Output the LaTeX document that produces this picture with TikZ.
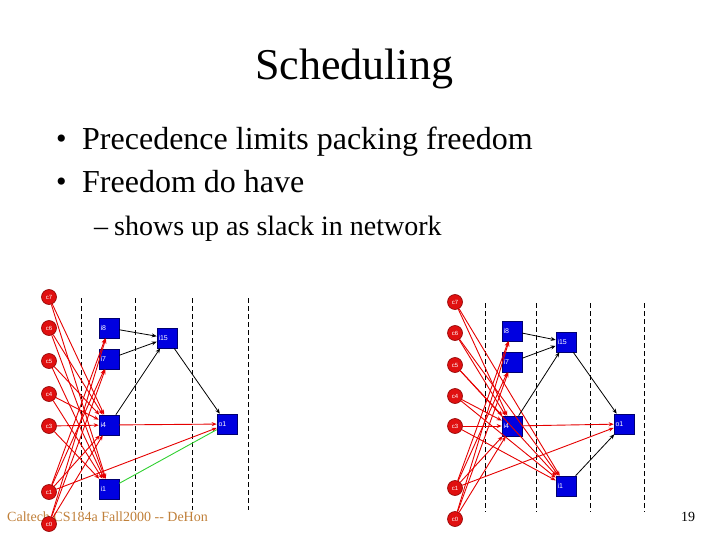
\documentclass[tikz,border=0pt]{standalone}
\usepackage{fontspec}
\setmainfont{Liberation Serif}
\newfontfamily\gsans{Liberation Sans}
\usetikzlibrary{arrows.meta}
\definecolor{cred}{HTML}{E01010}
\definecolor{cdred}{HTML}{900000}
\definecolor{bblue}{HTML}{0000E0}
\definecolor{bdblue}{HTML}{000070}
\definecolor{foot}{HTML}{C0803A}
\definecolor{egreen}{HTML}{30D030}
\begin{document}
\begin{tikzpicture}[x=1pt,y=-1pt,
  cnode/.style={circle,fill=cred,draw=cdred,line width=0.6pt,minimum size=15pt,inner sep=0pt,text=white,font=\gsans\fontsize{6}{6}\selectfont},
  bnode/.style={rectangle,fill=bblue,draw=bdblue,line width=0.6pt,minimum width=20pt,minimum height=20pt,inner sep=1.5pt,text width=17pt,align=left,text=white,font=\gsans\fontsize{7}{7}\selectfont},
  redge/.style={draw=red!90!black,line width=0.9pt,-{Stealth[length=5pt,width=4pt]}},
  kedge/.style={draw=black,line width=0.8pt,-{Stealth[length=5pt,width=4pt]}},
  gedge/.style={draw=egreen,line width=0.9pt},
  vdash/.style={draw=black,line width=0.8pt,dash pattern=on 5pt off 3pt},
  txt/.style={inner sep=0pt,anchor=base west}]
\useasboundingbox (0,0) rectangle (720,540);
% texts
\node[inner sep=0pt,anchor=base] (title) at (354,80) {\fontsize{44}{44}\selectfont Scheduling};
\node[txt] (d1) at (56,149) {\fontsize{30}{30}\selectfont\textbullet};
\node[txt] (b1) at (82,150) {\fontsize{32}{32}\selectfont Precedence limits packing freedom};
\node[txt] (d2) at (56,192) {\fontsize{30}{30}\selectfont\textbullet};
\node[txt] (b2) at (82,193) {\fontsize{32}{32}\selectfont Freedom do have};
\node[txt] (s0) at (94,236) {\fontsize{28}{28}\selectfont\textendash};
\node[txt] (s1) at (114,236) {\fontsize{28}{28}\selectfont shows up as slack in network};
\node[txt,text=foot] (foot) at (7,521) {\fontsize{14}{14}\selectfont Caltech CS184a Fall2000 -{}- DeHon};
\node[txt] (pg) at (681,521) {\fontsize{14}{14}\selectfont 19};
% dashed stage lines
\foreach \x in {81,135,192,248} \draw[vdash] (\x,298) -- (\x,510);
\foreach \x in {485,536,590,644} \draw[vdash] (\x,303) -- (\x,512);
% ---------------- left graph
\node[cnode] (Lc7) at (49,297) {c7};
\node[cnode] (Lc6) at (49,328) {c6};
\node[cnode] (Lc5) at (49,361) {c5};
\node[cnode] (Lc4) at (49,394) {c4};
\node[cnode] (Lc3) at (49,426) {c3};
\node[cnode] (Lc1) at (49,492) {c1};
\node[cnode] (Lc0) at (49,524) {c0};
\node[bnode] (Li8) at (109,328) {i8};
\node[bnode] (Li7) at (109,359) {i7};
\node[bnode] (Li4) at (109,425) {i4};
\node[bnode] (Li1) at (109,489) {i1};
\node[bnode] (Li15) at (167,338) {i15};
\node[bnode] (Lo1) at (227,424) {o1};
\foreach \s in {Lc7,Lc6,Lc5,Lc4,Lc3} {
  \draw[redge] (\s) -- (Li4);
  \draw[redge] (\s) -- (Li1);
}
\foreach \s in {Lc1,Lc0} {
  \draw[redge] (\s) -- (Li8);
  \draw[redge] (\s) -- (Li7);
  \draw[redge] (\s) -- (Li4);
}
\draw[redge] (Lc1) -- (Lo1);
\draw[redge] (Li4) -- (Lo1);
\draw[gedge] (Li1) -- (Lo1);
\draw[kedge] (Li8) -- (Li15);
\draw[kedge] (Li7) -- (Li15);
\draw[kedge] (Li4) -- (Li15);
\draw[kedge] (Li15) -- (Lo1);
% ---------------- right graph
\node[cnode] (Rc7) at (455,302) {c7};
\node[cnode] (Rc6) at (455,333) {c6};
\node[cnode] (Rc5) at (455,365) {c5};
\node[cnode] (Rc4) at (455,396) {c4};
\node[cnode] (Rc3) at (455,426) {c3};
\node[cnode] (Rc1) at (455,488) {c1};
\node[cnode] (Rc0) at (455,519) {c0};
\node[bnode] (Ri8) at (512,331) {i8};
\node[bnode] (Ri7) at (512,362) {i7};
\node[bnode] (Ri4) at (512,426) {i4};
\node[bnode] (Ri1) at (566,486) {i1};
\node[bnode] (Ri15) at (566,342) {i15};
\node[bnode] (Ro1) at (624,424) {o1};
\foreach \s in {Rc7,Rc6,Rc5,Rc4,Rc3} {
  \draw[redge] (\s) -- (Ri4);
  \draw[redge] (\s) -- (Ri1);
}
\foreach \s in {Rc1,Rc0} {
  \draw[redge] (\s) -- (Ri8);
  \draw[redge] (\s) -- (Ri7);
  \draw[redge] (\s) -- (Ri4);
}
\draw[redge] (Rc1) -- (Ro1);
\draw[redge] (Ri4) -- (Ro1);
\draw[kedge] (Ri1) -- (Ro1);
\draw[kedge] (Ri8) -- (Ri15);
\draw[kedge] (Ri7) -- (Ri15);
\draw[kedge] (Ri4) -- (Ri15);
\draw[kedge] (Ri15) -- (Ro1);
\end{tikzpicture}
\end{document}
